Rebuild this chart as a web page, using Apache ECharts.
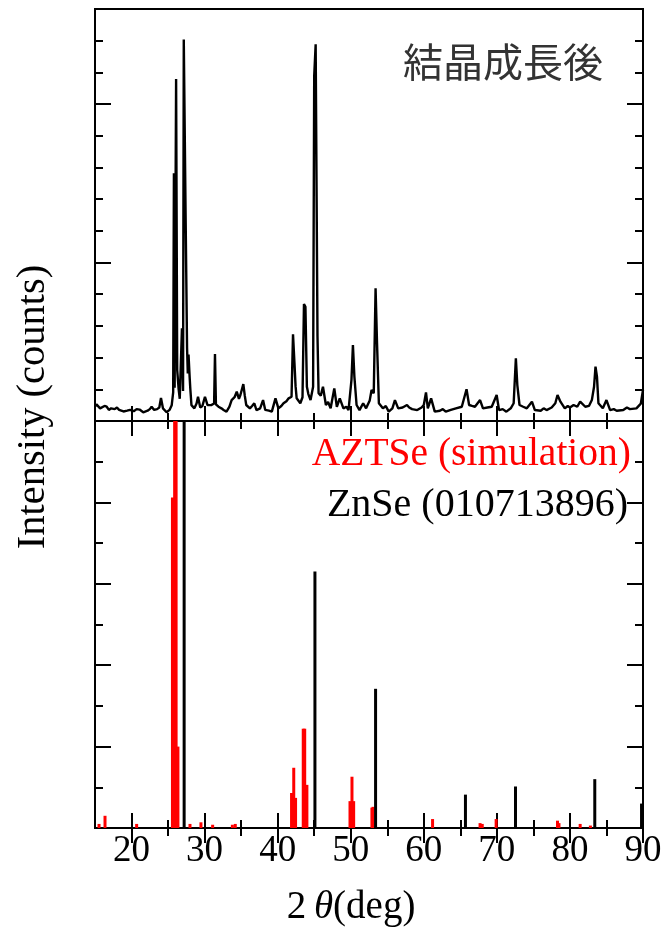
<!DOCTYPE html>
<html><head><meta charset="utf-8">
<script src="https://cdn.jsdelivr.net/npm/echarts@6/dist/echarts.min.js"></script>
<style>html,body{margin:0;padding:0;background:#fff}#c{width:665px;height:936px}</style>
</head><body><div id="c"></div>
<script>
// ---- measured pattern (top panel) ----
const topTheta = [15.0,15.2,15.45,15.7,15.9,16.3,16.6,16.9,17.2,17.7,18.0,18.3,18.9,19.4,19.8,20.3,20.7,21.1,21.6,22.2,22.5,22.75,23.1,23.5,23.8,24.03,24.3,24.8,25.2,25.5,25.7,25.8,25.9,26.1,26.25,26.45,26.6,26.9,27.05,27.15,27.4,27.6,27.7,27.8,27.95,28.05,28.2,28.6,28.9,29.1,29.4,29.7,30.05,30.4,30.9,31.3,31.42,31.55,31.9,32.3,32.6,33.0,33.4,33.7,34.1,34.4,34.7,34.9,35.1,35.3,35.5,35.7,36.2,36.5,36.8,37.1,37.6,38.0,38.3,38.8,39.2,39.7,40.1,40.5,40.8,41.2,41.5,41.9,42.1,42.3,42.45,42.6,43.1,43.4,43.6,43.8,44.0,44.2,44.5,44.85,45.0,45.2,45.45,45.6,45.9,46.2,46.6,46.9,47.25,47.75,48.1,48.5,49.0,49.4,49.7,50.1,50.3,50.5,50.8,51.2,51.7,52.1,52.6,52.85,53.15,53.4,53.6,53.85,54.4,54.8,55.2,55.7,56.05,56.5,57.1,57.7,58.0,58.4,59.1,59.7,60.0,60.3,60.55,61.0,61.5,62.2,62.6,63.0,63.7,64.4,65.2,65.85,66.2,66.6,67.0,67.7,68.1,68.7,69.3,69.97,70.3,70.8,71.3,71.9,72.3,72.6,72.8,73.1,73.6,74.1,74.8,75.2,76.0,76.4,76.8,77.5,78.0,78.3,78.7,79.3,79.7,80.0,80.5,81.0,81.4,82.1,82.6,83.0,83.3,83.5,83.7,83.9,84.5,85.0,85.5,86.0,86.4,87.3,87.8,88.2,89.1,89.7,90.0];
const topCounts = [90,105,100,80,85,95,90,70,80,75,85,70,60,65,70,62,75,72,55,65,75,90,70,75,85,145,80,55,70,100,180,1563,210,2158,322,200,140,585,190,2408,1300,460,300,420,280,200,100,80,110,153,85,95,153,100,100,110,423,105,90,80,70,59,90,132,150,185,140,164,170,233,160,101,80,95,112,69,80,132,70,65,59,143,80,95,112,125,143,153,547,364,220,143,112,150,738,721,216,170,132,216,2177,2377,536,175,160,216,101,120,80,206,90,143,80,90,69,259,480,280,101,69,112,80,130,196,175,837,490,112,80,95,59,80,132,80,85,101,85,75,69,85,101,180,80,143,59,65,75,59,70,80,90,200,101,95,90,132,80,85,90,164,69,75,59,80,112,396,227,101,90,80,122,69,65,80,69,85,112,164,122,80,95,85,101,90,122,90,95,132,216,343,280,112,80,132,69,75,65,69,85,75,80,110,196];

// ---- reference sticks (bottom panel) ----
const aztseTheta = [15.55,16.37,20.7,25.6,25.9,26.1,26.35,28.0,29.5,31.1,33.8,34.2,41.9,42.2,42.45,43.5,43.7,44.0,49.9,50.17,50.4,52.9,53.05,61.2,67.7,68.0,69.9,78.3,78.5,81.4,82.8];
const aztseIntensity = [0.5,1.5,0.5,40.6,60,60,10,0.5,0.7,0.4,0.4,0.5,4.3,7.4,3.7,12.2,12.2,5.3,3.3,6.3,3.3,2.5,2.6,1.1,0.6,0.5,1.1,0.9,0.6,0.5,0.3];
const znseTheta = [27.2,45.1,53.4,65.7,72.55,83.4,89.8];
const znseIntensity = [60,31.5,17.1,4.1,5.1,6.0,3.0];

// ---- ticks ----
const xMajorTicks = [20,30,40,50,60,70,80,90];
const xMinorTicks = [25,35,45,55,65,75,85];
const topYMajor = [0,1000,2000];
const topYMinor = [200,400,600,800,1200,1400,1600,1800,2200,2400];
const botYMajor = [0,10,20,30,40,50];
const botYMinor = [5,15,25,35,45];

const SERIF = '"Liberation Serif","Times New Roman",serif';

function xAx(grid, pos, ticks, len, labels) {
  return {
    type: 'value', gridIndex: grid, position: pos, min: 15, max: 90,
    axisLine: {show: false}, splitLine: {show: false},
    axisTick: {show: true, inside: true, length: len, customValues: ticks, lineStyle: {color: '#000', width: 2}},
    axisLabel: labels ? {show: true, customValues: xMajorTicks, fontFamily: SERIF, fontSize: 37, color: '#000', margin: 5} : {show: false}
  };
}
function yAx(grid, pos, ticks, len, max) {
  return {
    type: 'value', gridIndex: grid, position: pos, min: 0, max: max,
    axisLine: {show: false}, splitLine: {show: false},
    axisTick: {show: true, inside: true, length: len, customValues: ticks, lineStyle: {color: '#000', width: 2}},
    axisLabel: {show: false}
  };
}

const chart = echarts.init(document.getElementById('c'), null, {renderer: 'canvas'});
chart.setOption({
  animation: false,
  backgroundColor: '#fff',
  grid: [
    {left: 95, top: 9, width: 548, height: 412, show: true, borderColor: '#000', borderWidth: 2, backgroundColor: 'transparent'},
    {left: 95, top: 421, width: 548, height: 407, show: true, borderColor: '#000', borderWidth: 2, backgroundColor: 'transparent'}
  ],
  xAxis: [
    xAx(0, 'bottom', xMajorTicks, 15, false),
    xAx(0, 'bottom', xMinorTicks, 8, false),
    xAx(0, 'top', xMajorTicks, 15, false),
    xAx(0, 'top', xMinorTicks, 8, false),
    xAx(1, 'bottom', xMajorTicks, 15, true),
    xAx(1, 'bottom', xMinorTicks, 8, false),
    xAx(1, 'top', xMajorTicks, 15, false),
    xAx(1, 'top', xMinorTicks, 8, false)
  ],
  yAxis: [
    yAx(0, 'left', topYMajor, 16, 2600),
    yAx(0, 'left', topYMinor, 8, 2600),
    yAx(0, 'right', topYMajor, 16, 2600),
    yAx(0, 'right', topYMinor, 8, 2600),
    yAx(1, 'left', botYMajor, 16, 50),
    yAx(1, 'left', botYMinor, 8, 50),
    yAx(1, 'right', botYMajor, 16, 50),
    yAx(1, 'right', botYMinor, 8, 50)
  ],
  series: [
    {
      type: 'line', xAxisIndex: 0, yAxisIndex: 0, showSymbol: false, symbol: 'none',
      lineStyle: {color: '#000', width: 2.4}, clip: true,
      data: topTheta.map((t, i) => [t, topCounts[i]])
    },
    {
      type: 'bar', xAxisIndex: 4, yAxisIndex: 4, barWidth: 3, barGap: '-100%', clip: true,
      itemStyle: {color: '#ff0000'},
      data: aztseTheta.map((t, i) => [t, aztseIntensity[i]])
    },
    {
      type: 'bar', xAxisIndex: 4, yAxisIndex: 4, barWidth: 3, barGap: '-100%', clip: true,
      itemStyle: {color: '#000'},
      data: znseTheta.map((t, i) => [t, znseIntensity[i]])
    }
  ],
  graphic: [
    {type: 'text', x: 403, y: 62, style: {text: '結晶成長後', fill: '#333', font: '40px "Noto Sans CJK JP"', textAlign: 'left', textVerticalAlign: 'middle'}},
    {type: 'text', x: 631, y: 455, style: {text: 'AZTSe (simulation)', fill: '#ff0000', font: '39.5px ' + SERIF, textAlign: 'right', textVerticalAlign: 'middle'}},
    {type: 'text', x: 628, y: 505, style: {text: 'ZnSe (010713896)', fill: '#000', font: '40px ' + SERIF, textAlign: 'right', textVerticalAlign: 'middle'}},
    {type: 'text', x: 351, y: 908, style: {
      text: '{a|2\u2009}{b|θ}{a|(deg)}', textAlign: 'center', textVerticalAlign: 'middle',
      rich: {a: {fontFamily: SERIF, fontSize: 39, fill: '#000'}, b: {fontFamily: SERIF, fontSize: 39, fontStyle: 'italic', fill: '#000'}}
    }},
    {type: 'text', x: 33, y: 407, rotation: Math.PI / 2, style: {text: 'Intensity (counts)', fill: '#000', font: '40.5px ' + SERIF, textAlign: 'center', textVerticalAlign: 'middle'}}
  ]
});
</script>
</body></html>
